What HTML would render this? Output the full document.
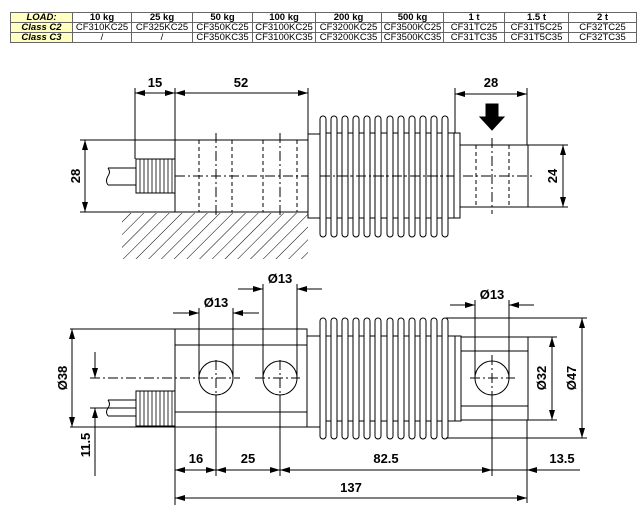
<!DOCTYPE html>
<html><head><meta charset="utf-8"><style>
html,body{margin:0;padding:0;background:#fff;width:644px;height:509px;overflow:hidden}
table{position:absolute;left:10px;top:12px;width:626px;border-collapse:collapse;font-family:"Liberation Sans",sans-serif;font-size:9.5px;table-layout:fixed}
td{border:1px solid #666;height:9px;padding:0;text-align:center;line-height:9px;white-space:nowrap;overflow:hidden}
td.h{background:#ffffc0;font-weight:bold;font-style:italic}
tr.top td{font-weight:bold}
svg{position:absolute;left:0;top:0}
</style></head><body>
<table>
<colgroup><col style="width:62px"><col style="width:59px"><col style="width:61px"><col style="width:60px"><col style="width:63px"><col style="width:66px"><col style="width:62px"><col style="width:61px"><col style="width:64px"><col style="width:68px"></colgroup>
<tr class="top"><td class="h">LOAD:</td><td>10 kg</td><td>25 kg</td><td>50 kg</td><td>100 kg</td><td>200 kg</td><td>500 kg</td><td>1 t</td><td>1.5 t</td><td>2 t</td></tr>
<tr><td class="h">Class C2</td><td>CF310KC25</td><td>CF325KC25</td><td>CF350KC25</td><td>CF3100KC25</td><td>CF3200KC25</td><td>CF3500KC25</td><td>CF31TC25</td><td>CF31T5C25</td><td>CF32TC25</td></tr>
<tr><td class="h">Class C3</td><td>/</td><td>/</td><td>CF350KC35</td><td>CF3100KC35</td><td>CF3200KC35</td><td>CF3500KC35</td><td>CF31TC35</td><td>CF31T5C35</td><td>CF32TC35</td></tr>
</table>
<svg width="644" height="509" viewBox="0 0 644 509" xmlns="http://www.w3.org/2000/svg">
<defs>
<marker id="a" viewBox="0 0 10 6" refX="10" refY="3" markerWidth="10" markerHeight="6" markerUnits="userSpaceOnUse" orient="auto-start-reverse"><path d="M0,0 L10,3 L0,6 z" fill="#000"/></marker>
<pattern id="hatch" width="9" height="9" patternUnits="userSpaceOnUse" patternTransform="rotate(45)"><line x1="0" y1="0" x2="0" y2="9" stroke="#000" stroke-width="1"/></pattern>
<g id="fin"><rect x="0" y="0" width="6" height="121" rx="3" fill="#fff" stroke="#000" stroke-width="1"/></g>
</defs>
<g fill="none" stroke="#000" stroke-width="1" font-family="Liberation Sans, sans-serif" font-weight="bold" font-size="13">
<!-- TOP VIEW -->
<rect x="122" y="213" width="186" height="46" fill="url(#hatch)" stroke="none"/>
<rect x="175" y="140" width="133" height="72" fill="#fff"/>
<line x1="80" y1="140" x2="175" y2="140"/><line x1="80" y1="212" x2="175" y2="212"/>
<line x1="85" y1="140" x2="85" y2="212" marker-start="url(#a)" marker-end="url(#a)"/>
<text x="0" y="0" transform="translate(80,176) rotate(-90)" text-anchor="middle" fill="#000" stroke="none">28</text>
<line x1="135" y1="88" x2="135" y2="159"/><line x1="175" y1="88" x2="175" y2="140"/><line x1="308" y1="88" x2="308" y2="134"/>
<line x1="135" y1="93" x2="175" y2="93" marker-start="url(#a)" marker-end="url(#a)"/>
<line x1="175" y1="93" x2="308" y2="93" marker-start="url(#a)" marker-end="url(#a)"/>
<text x="155" y="87" text-anchor="middle" fill="#000" stroke="none">15</text>
<text x="241" y="87" text-anchor="middle" fill="#000" stroke="none">52</text>
<rect x="136" y="159" width="39" height="34" fill="#fff"/>
<path d="M140,159v34M144,159v34M148,159v34M152,159v34M156,159v34M160,159v34M164,159v34M168,159v34M172,159v34" stroke-width="0.8"/>
<path d="M136,168H108M136,185H108M108,168q3,4 0,8q-3,5 0,9"/>
<g stroke-dasharray="4,3"><line x1="199" y1="140" x2="199" y2="212"/><line x1="232" y1="140" x2="232" y2="212"/><line x1="263" y1="140" x2="263" y2="212"/><line x1="297" y1="140" x2="297" y2="212"/><line x1="476" y1="145" x2="476" y2="207"/><line x1="509" y1="145" x2="509" y2="207"/></g>
<g stroke-dasharray="10,3,2,3"><line x1="216" y1="133" x2="216" y2="218"/><line x1="280" y1="133" x2="280" y2="218"/><line x1="492" y1="138" x2="492" y2="214"/><line x1="175" y1="176" x2="535" y2="176"/></g>
<rect x="308" y="134" width="12" height="84" fill="#fff"/>
<rect x="320" y="133" width="134" height="85"/>
<use href="#fin" x="320" y="116"/><use href="#fin" x="331" y="116"/><use href="#fin" x="342" y="116"/><use href="#fin" x="353" y="116"/><use href="#fin" x="364" y="116"/><use href="#fin" x="375" y="116"/><use href="#fin" x="387" y="116"/><use href="#fin" x="398" y="116"/><use href="#fin" x="409" y="116"/><use href="#fin" x="420" y="116"/><use href="#fin" x="431" y="116"/><use href="#fin" x="442" y="116"/>
<line x1="320" y1="176" x2="454" y2="176" stroke-dasharray="10,3,2,3"/>
<rect x="454" y="133" width="6" height="85" fill="#fff"/>
<rect x="460" y="145" width="68" height="62"/>
<line x1="455" y1="88" x2="455" y2="133"/><line x1="527" y1="88" x2="527" y2="145"/>
<line x1="455" y1="94" x2="527" y2="94" marker-start="url(#a)" marker-end="url(#a)"/>
<text x="491" y="87" text-anchor="middle" fill="#000" stroke="none">28</text>
<path d="M486,104h12v13h6l-12,13l-12,-13h6z" fill="#000"/>
<line x1="528" y1="145" x2="568" y2="145"/><line x1="528" y1="207" x2="568" y2="207"/>
<line x1="563" y1="145" x2="563" y2="207" marker-start="url(#a)" marker-end="url(#a)"/>
<text x="0" y="0" transform="translate(557,176) rotate(-90)" text-anchor="middle" fill="#000" stroke="none">24</text>

<!-- BOTTOM VIEW -->
<rect x="175" y="329" width="132" height="98" fill="#fff"/>
<line x1="175" y1="345" x2="307" y2="345"/><line x1="175" y1="412" x2="307" y2="412"/>
<circle cx="216" cy="378" r="17"/><circle cx="280" cy="378" r="17"/>
<line x1="70" y1="329" x2="175" y2="329"/><line x1="70" y1="427" x2="175" y2="427"/>
<line x1="72" y1="329" x2="72" y2="427" marker-start="url(#a)" marker-end="url(#a)"/>
<text x="0" y="0" transform="translate(67,378) rotate(-90)" text-anchor="middle" fill="#000" stroke="none">Ø38</text>
<line x1="95" y1="352" x2="95" y2="378" marker-end="url(#a)"/>
<line x1="95" y1="476" x2="95" y2="408" marker-end="url(#a)"/>
<line x1="90" y1="408" x2="136" y2="408"/>
<text x="0" y="0" transform="translate(90,445) rotate(-90)" text-anchor="middle" fill="#000" stroke="none">11.5</text>
<rect x="136" y="391" width="39" height="35" fill="#fff"/>
<path d="M140,391v35M144,391v35M148,391v35M152,391v35M156,391v35M160,391v35M164,391v35M168,391v35M172,391v35" stroke-width="0.8"/>
<path d="M136,400H108M136,416H108M108,400q3,4 0,8q-3,4 0,8"/>
<line x1="199" y1="308" x2="199" y2="378"/><line x1="233" y1="308" x2="233" y2="378"/>
<line x1="173" y1="313" x2="199" y2="313" marker-end="url(#a)"/><line x1="259" y1="313" x2="233" y2="313" marker-end="url(#a)"/>
<text x="216" y="307" text-anchor="middle" fill="#000" stroke="none">Ø13</text>
<line x1="263" y1="284" x2="263" y2="378"/><line x1="297" y1="284" x2="297" y2="378"/>
<line x1="238" y1="289" x2="263" y2="289" marker-end="url(#a)"/><line x1="322" y1="289" x2="297" y2="289" marker-end="url(#a)"/>
<text x="280" y="283" text-anchor="middle" fill="#000" stroke="none">Ø13</text>
<rect x="307" y="336" width="13" height="91" fill="#fff"/>
<rect x="320" y="336" width="135" height="85"/>
<g transform="translate(0,202)"><use href="#fin" x="320" y="116"/><use href="#fin" x="331" y="116"/><use href="#fin" x="342" y="116"/><use href="#fin" x="353" y="116"/><use href="#fin" x="364" y="116"/><use href="#fin" x="375" y="116"/><use href="#fin" x="387" y="116"/><use href="#fin" x="398" y="116"/><use href="#fin" x="409" y="116"/><use href="#fin" x="420" y="116"/><use href="#fin" x="431" y="116"/><use href="#fin" x="442" y="116"/></g>
<rect x="455" y="336" width="6" height="85" fill="#fff"/>
<rect x="461" y="337" width="67" height="83" fill="#fff"/>
<line x1="461" y1="351" x2="528" y2="351"/><line x1="461" y1="406" x2="528" y2="406"/>
<circle cx="492" cy="378" r="17"/>
<g stroke-dasharray="10,3,2,3"><line x1="90" y1="378" x2="240" y2="378"/><line x1="255" y1="378" x2="300" y2="378"/><line x1="470" y1="378" x2="515" y2="378"/><line x1="492" y1="355" x2="492" y2="400"/><line x1="216" y1="360" x2="216" y2="395"/><line x1="280" y1="360" x2="280" y2="395"/></g>
<line x1="475" y1="300" x2="475" y2="378"/><line x1="509" y1="300" x2="509" y2="378"/>
<line x1="450" y1="305" x2="475" y2="305" marker-end="url(#a)"/><line x1="534" y1="305" x2="509" y2="305" marker-end="url(#a)"/>
<text x="492" y="299" text-anchor="middle" fill="#000" stroke="none">Ø13</text>
<line x1="528" y1="337" x2="557" y2="337"/><line x1="528" y1="420" x2="557" y2="420"/>
<line x1="552" y1="337" x2="552" y2="420" marker-start="url(#a)" marker-end="url(#a)"/>
<text x="0" y="0" transform="translate(546,378) rotate(-90)" text-anchor="middle" fill="#000" stroke="none">Ø32</text>
<line x1="446" y1="318" x2="587" y2="318"/><line x1="446" y1="438" x2="587" y2="438"/>
<line x1="582" y1="318" x2="582" y2="438" marker-start="url(#a)" marker-end="url(#a)"/>
<text x="0" y="0" transform="translate(576,378) rotate(-90)" text-anchor="middle" fill="#000" stroke="none">Ø47</text>
<!-- bottom dims -->
<line x1="175" y1="427" x2="175" y2="505"/><line x1="216" y1="395" x2="216" y2="476"/><line x1="280" y1="395" x2="280" y2="476"/><line x1="492" y1="395" x2="492" y2="476"/><line x1="527" y1="420" x2="527" y2="503"/>
<line x1="175" y1="470" x2="216" y2="470" marker-start="url(#a)" marker-end="url(#a)"/>
<line x1="216" y1="470" x2="280" y2="470" marker-start="url(#a)" marker-end="url(#a)"/>
<line x1="280" y1="470" x2="492" y2="470" marker-start="url(#a)" marker-end="url(#a)"/>
<line x1="580" y1="470" x2="527" y2="470" marker-end="url(#a)"/><line x1="492" y1="470" x2="527" y2="470"/>
<text x="196" y="463" text-anchor="middle" fill="#000" stroke="none">16</text>
<text x="248" y="463" text-anchor="middle" fill="#000" stroke="none">25</text>
<text x="386" y="463" text-anchor="middle" fill="#000" stroke="none">82.5</text>
<text x="562" y="463" text-anchor="middle" fill="#000" stroke="none">13.5</text>
<line x1="175" y1="498" x2="527" y2="498" marker-start="url(#a)" marker-end="url(#a)"/>
<text x="351" y="492" text-anchor="middle" fill="#000" stroke="none">137</text>
</g>
</svg>
</body></html>
